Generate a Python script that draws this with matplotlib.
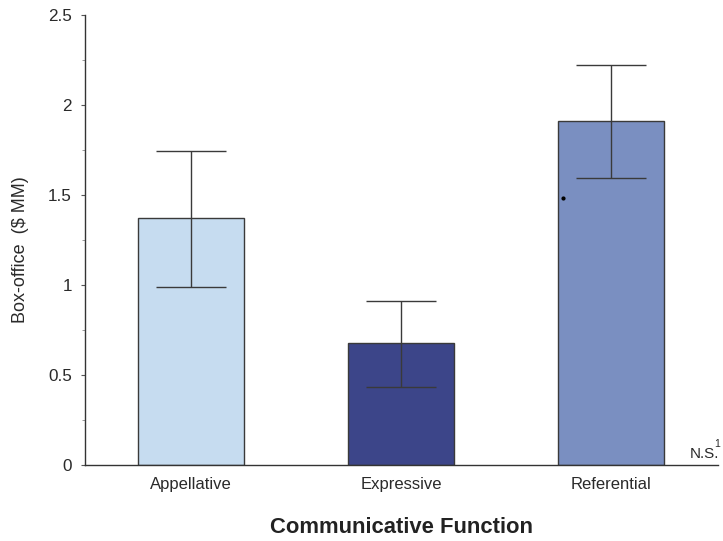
import numpy as np
import matplotlib
matplotlib.use("Agg")
import matplotlib.pyplot as plt
from matplotlib.ticker import MultipleLocator

plt.rcParams['font.family'] = ['Liberation Sans', 'DejaVu Sans']

functions = ["Appellative", "Expressive", "Referential"]
box_office = [1.372, 0.678, 1.911]
err_low = [0.989, 0.433, 1.594]
err_high = [1.744, 0.911, 2.222]
colors = ["#c6dcf0", "#3c4589", "#7a8fc1"]

x = np.arange(len(functions))
lower = np.array(box_office) - np.array(err_low)
upper = np.array(err_high) - np.array(box_office)

fig = plt.figure(figsize=(7.23, 5.41), dpi=100)
ax = fig.add_axes([0.1176, 0.1405, 0.8754, 0.8318])

ax.bar(x, box_office, width=0.505, color=colors, edgecolor="#3a3a3a", linewidth=1.0, zorder=2)
ax.errorbar(x, box_office, yerr=[lower, upper], fmt="none", ecolor="#3a3a3a",
            elinewidth=1.0, capsize=25, capthick=1.0, zorder=3)

# stray point inside the third bar
ax.plot([1.771], [1.483], marker="o", markersize=2, color="black", zorder=4)

ax.set_xlim(-0.505, 2.51)
ax.set_ylim(0, 2.5)
ax.yaxis.set_minor_locator(MultipleLocator(0.25))
ax.set_yticks([0, 0.5, 1, 1.5, 2, 2.5])
ax.set_yticklabels(["0", "0.5", "1", "1.5", "2", "2.5"])
ax.set_xticks(x)
ax.set_xticklabels(functions)

for side in ["top", "right"]:
    ax.spines[side].set_visible(False)
for side in ["left", "bottom"]:
    ax.spines[side].set_color("#333333")
    ax.spines[side].set_linewidth(1.0)

ax.tick_params(axis="y", which="major", length=3, width=0.8, color="#555555",
               labelsize=12.3, labelcolor="#2a2a2a", pad=6.5)
ax.tick_params(axis="y", which="minor", length=2.5, width=0.6, color="#888888")
ax.tick_params(axis="x", length=0, labelsize=12, labelcolor="#2a2a2a", pad=9)

ax.set_ylabel("Box-office  ($ MM)", fontsize=13, color="#2a2a2a")
ax.yaxis.set_label_coords(-0.089, 0.478)
ax.set_xlabel("Communicative Function", fontsize=15.8, fontweight="bold", color="#222222")
ax.xaxis.set_label_coords(0.5, -0.116)

ax.text(2.375, 0.02, "N.S.", fontsize=11, color="#2a2a2a", ha="left", va="bottom")
ax.text(2.49, 0.09, "1", fontsize=7.5, color="#2a2a2a", ha="left", va="bottom")

fig.savefig("out.png", dpi=100)
